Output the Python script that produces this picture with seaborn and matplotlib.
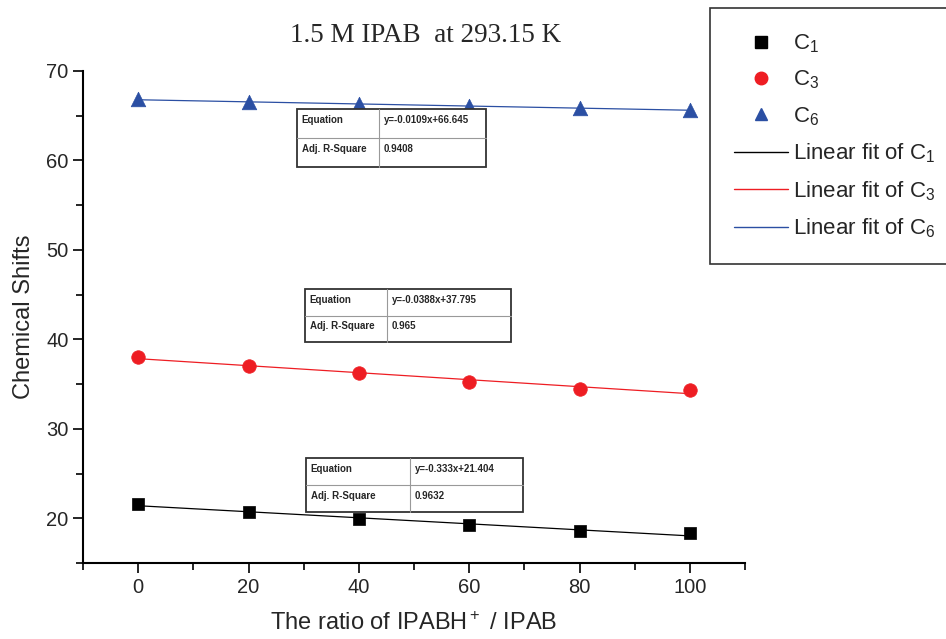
import numpy as np
import matplotlib
matplotlib.use("Agg")
import matplotlib.pyplot as plt
from matplotlib.lines import Line2D
import seaborn as sns

# data
ratio = [0, 20, 40, 60, 80, 100]
c1 = [21.55, 20.75, 19.95, 19.2, 18.55, 18.3]
c3 = [38.05, 37.05, 36.2, 35.2, 34.5, 34.3]
c6 = [66.85, 66.5, 66.3, 66.05, 65.85, 65.65]

series_names = ["C$_1$", "C$_3$", "C$_6$"]
equations = ["y=-0.333x+21.404", "y=-0.0388x+37.795", "y=-0.0109x+66.645"]
r_squares = ["0.9632", "0.965", "0.9408"]

sns.set_style("ticks")
plt.rcParams["font.family"] = ["Liberation Sans", "DejaVu Sans"]
plt.rcParams["mathtext.fontset"] = "custom"
plt.rcParams["mathtext.rm"] = "Liberation Sans"
plt.rcParams["mathtext.it"] = "Liberation Sans"

fig = plt.figure(figsize=(9.46, 6.39), dpi=100)
ax = fig.add_axes([83 / 946, 76 / 639, 662 / 946, 492 / 639])

colors = ["black", "#ee1d23", "#2b4fa3"]
markers = ["s", "o", "^"]
sizes = [70, 95, 110]
for ys, col, mk, sz in zip([c1, c3, c6], colors, markers, sizes):
    sns.regplot(x=ratio, y=ys, ax=ax, scatter=False, ci=None, color=col,
                line_kws={"lw": 0.9})
    sns.scatterplot(x=ratio, y=ys, ax=ax, marker=mk, s=sz, color=col,
                    edgecolor=col, linewidth=0.5, zorder=3)

ax.set_xlim(-10, 110)
ax.set_ylim(15, 70)
ax.set_xticks([0, 20, 40, 60, 80, 100])
ax.set_xticks(np.arange(-10, 111, 10), minor=True)
ax.set_yticks([20, 30, 40, 50, 60, 70])
ax.set_yticks(np.arange(15, 71, 5), minor=True)
ax.tick_params(which="major", length=7, width=1.2, labelsize=14.5, color="black")
ax.tick_params(which="minor", length=5, width=1.2, color="black")
for s in ["left", "bottom"]:
    ax.spines[s].set_linewidth(1.5)
    ax.spines[s].set_color("black")
sns.despine(ax=ax)

ax.set_xlabel("The ratio of IPABH$^+$ / IPAB", fontsize=17, labelpad=11)
ax.set_ylabel("Chemical Shifts", fontsize=17, labelpad=8)
fig.text(426 / 946, 1 - 36 / 639, "1.5 M IPAB  at 293.15 K", ha="center", va="center",
         fontsize=19.5, family="Liberation Serif")

# legend
handles = []
for col, mk, name in zip(colors, markers, series_names):
    handles.append(Line2D([], [], ls="none", marker=mk, color=col, markersize=9, label=name))
for col, name in zip(colors, series_names):
    handles.append(Line2D([], [], color=col, lw=1, label="Linear fit of " + name))
leg = fig.legend(handles=handles, loc="upper left", bbox_to_anchor=(710 / 946, 1 - 8 / 639),
                 bbox_transform=fig.transFigure, borderaxespad=0,
                 fontsize=16, frameon=True, fancybox=False, handlelength=2.4,
                 labelspacing=0.62, borderpad=1.1, handletextpad=0.25)
leg.get_frame().set_edgecolor("black")
leg.get_frame().set_linewidth(1.2)


def draw_table(x0, x1, y0, y1, split, eq, r2):
    # box coordinates in axes fractions
    tr = ax.transAxes
    ymid = (y0 + y1) / 2
    ax.add_patch(plt.Rectangle((x0, y0), x1 - x0, y1 - y0, transform=tr, fill=True,
                               facecolor="white", edgecolor="#333333", lw=1.3, zorder=5))
    ax.plot([x0, x1], [ymid, ymid], transform=tr, color="#999999", lw=0.8, zorder=6)
    ax.plot([split, split], [y0, y1], transform=tr, color="#999999", lw=0.8, zorder=6)
    kw = dict(transform=tr, fontsize=7, fontweight="bold", va="top", ha="left", zorder=7)
    ax.text(x0 + 0.007, y1 - 0.012, "Equation", **kw)
    ax.text(split + 0.007, y1 - 0.012, eq, **kw)
    ax.text(x0 + 0.007, ymid - 0.012, "Adj. R-Square", **kw)
    ax.text(split + 0.007, ymid - 0.012, r2, **kw)


def px(xp, yp):
    return (xp - 83) / 662, (568 - yp) / 492


boxes = [(306, 523, 463, 517, 410), (305, 511, 294, 347, 387), (297, 486, 114, 172, 379)]
for (xa, xb, ya, yb, xs), eq, r2 in zip(boxes, equations, r_squares):
    ax0, ay1 = px(xa, ya)
    ax1, ay0 = px(xb, yb)
    sp, _ = px(xs, ya)
    draw_table(ax0, ax1, ay0, ay1, sp, eq, r2)

fig.savefig("out.png", dpi=100)
